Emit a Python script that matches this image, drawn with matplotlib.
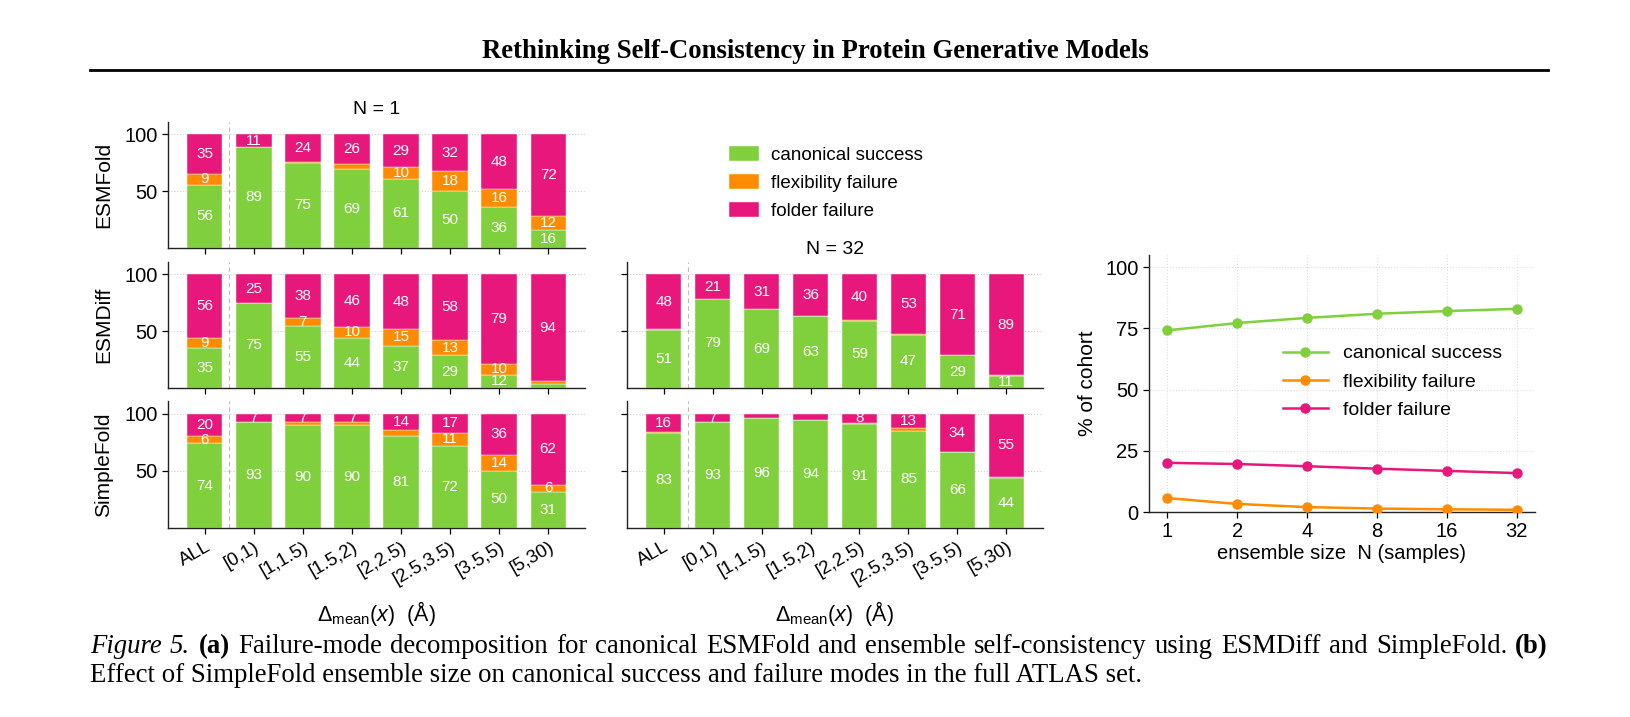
import matplotlib
matplotlib.use("Agg")
import matplotlib.pyplot as plt
from matplotlib.patches import Patch
from matplotlib.lines import Line2D
import numpy as np

# ---------------- data ----------------
categories = ["ALL", "[0,1)", "[1,1.5)", "[1.5,2)", "[2,2.5)", "[2.5,3.5)", "[3.5,5)", "[5,30)"]

esmfold_n1_success = [55.8, 89.2, 75.2, 69.4, 61.0, 50.0, 36.0, 16.0]
esmfold_n1_flex    = [9.2, 0.0, 0.6, 4.4, 10.0, 18.0, 16.0, 12.0]
esmfold_n1_folder  = [35.0, 10.8, 24.2, 26.2, 29.0, 32.0, 48.0, 72.0]

esmdiff_n1_success = [35.0, 75.0, 55.0, 44.0, 37.0, 29.0, 11.6, 3.5]
esmdiff_n1_flex    = [9.0, 0.0, 7.0, 10.0, 15.0, 13.0, 9.8, 2.5]
esmdiff_n1_folder  = [56.0, 25.0, 38.0, 46.0, 48.0, 58.0, 78.6, 94.0]

simplefold_n1_success = [74.0, 92.6, 89.8, 89.8, 80.8, 72.0, 50.0, 31.4]
simplefold_n1_flex    = [6.0, 0.4, 3.0, 2.6, 4.8, 11.0, 14.0, 6.4]
simplefold_n1_folder  = [20.0, 7.0, 7.2, 7.4, 14.4, 17.0, 36.0, 62.2]

esmdiff_n32_success = [51.2, 78.8, 69.2, 63.4, 59.2, 47.0, 29.0, 11.0]
esmdiff_n32_flex    = [0.6, 0.0, 0.2, 0.4, 0.8, 0.2, 0.2, 0.2]
esmdiff_n32_folder  = [48.2, 21.2, 30.6, 36.2, 40.0, 52.8, 70.8, 88.8]

simplefold_n32_success = [83.2, 92.6, 96.0, 94.2, 91.0, 84.8, 66.0, 44.0]
simplefold_n32_flex    = [0.8, 0.2, 0.5, 0.6, 1.0, 2.4, 0.2, 0.8]
simplefold_n32_folder  = [16.0, 7.2, 3.5, 5.2, 8.0, 12.8, 33.8, 55.2]

ensemble_sizes = [1, 2, 4, 8, 16, 32]
line_success = [74.2, 77.2, 79.3, 81.0, 82.1, 83.0]
line_flex    = [5.7, 3.3, 2.0, 1.4, 1.1, 0.9]
line_folder  = [20.1, 19.6, 18.7, 17.7, 16.8, 15.9]

series_labels = ["canonical success", "flexibility failure", "folder failure"]

# ---------------- style ----------------
C_GREEN = "#7fd03c"
C_ORANGE = "#ff8c00"
C_MAGENTA = "#e8177c"
colors = [C_GREEN, C_ORANGE, C_MAGENTA]

plt.rcParams["font.family"] = ["Liberation Sans", "DejaVu Sans"]
plt.rcParams["mathtext.fontset"] = "custom"
plt.rcParams["mathtext.rm"] = "Liberation Sans"
plt.rcParams["mathtext.it"] = "Liberation Sans:italic"
plt.rcParams["axes.linewidth"] = 1.0
plt.rcParams["axes.edgecolor"] = "#222222"

W, H = 1631, 717
fig = plt.figure(figsize=(W / 100, H / 100), dpi=100)


def rect(x0, y0, x1, y1):
    return [x0 / W, 1 - y1 / H, (x1 - x0) / W, (y1 - y0) / H]


LX0, LX1 = 168, 585
RX0, RX1 = 627, 1043
ROWS = [(122, 248), (262, 388), (401, 528)]

TICK_FS = 14.5
BAR_FS = 11


def stacked(ax, succ, flex, fold, show_xlabels, show_ylabels):
    x = np.arange(len(categories))
    bottoms = np.zeros(len(categories))
    for vals, col in zip([succ, flex, fold], colors):
        vals = np.asarray(vals, dtype=float)
        ax.bar(x, vals, width=0.72, bottom=bottoms, color=col,
               edgecolor="white", linewidth=0.3, zorder=2)
        for xi, b, v in zip(x, bottoms, vals):
            if v >= 5.5:
                ax.text(xi, b + v / 2, f"{int(round(v))}", ha="center", va="center",
                        color="white", fontsize=BAR_FS, zorder=3)
        bottoms = bottoms + vals
    ax.set_xlim(-0.75, 7.75)
    ax.set_ylim(0, 111)
    ax.set_yticks([50, 100])
    ax.yaxis.grid(True, linestyle=":", color="#cccccc", linewidth=0.8, zorder=0)
    ax.set_axisbelow(True)
    ax.axvline(0.5, color="#bbbbbb", linestyle=(0, (4, 3)), linewidth=0.8, zorder=1)
    for s in ["top", "right"]:
        ax.spines[s].set_visible(False)
    ax.set_xticks(x)
    ax.tick_params(axis="both", labelsize=TICK_FS, length=4, width=0.9)
    if show_xlabels:
        ax.set_xticklabels(categories, rotation=30, ha="right", rotation_mode="anchor",
                           fontsize=13.5)
        ax.set_xlabel(r"$\Delta_{\mathrm{mean}}(x)$  (Å)", fontsize=15.5, labelpad=8)
    else:
        ax.set_xticklabels([])
    if not show_ylabels:
        ax.set_yticklabels([])


model_names = ["ESMFold", "ESMDiff", "SimpleFold"]
left_data = [
    (esmfold_n1_success, esmfold_n1_flex, esmfold_n1_folder),
    (esmdiff_n1_success, esmdiff_n1_flex, esmdiff_n1_folder),
    (simplefold_n1_success, simplefold_n1_flex, simplefold_n1_folder),
]
for i, ((y0, y1), name, d) in enumerate(zip(ROWS, model_names, left_data)):
    ax = fig.add_axes(rect(LX0, y0, LX1, y1))
    stacked(ax, *d, show_xlabels=(i == 2), show_ylabels=True)
    ax.set_ylabel(name, fontsize=15, labelpad=8)
    if i == 0:
        ax.set_title("N = 1", fontsize=14, pad=6)

right_data = [
    (esmdiff_n32_success, esmdiff_n32_flex, esmdiff_n32_folder),
    (simplefold_n32_success, simplefold_n32_flex, simplefold_n32_folder),
]
for i, ((y0, y1), d) in enumerate(zip(ROWS[1:], right_data)):
    ax = fig.add_axes(rect(RX0, y0, RX1, y1))
    stacked(ax, *d, show_xlabels=(i == 1), show_ylabels=False)
    if i == 0:
        ax.set_title("N = 32", fontsize=14, pad=6)

# bar legend
handles = [Patch(facecolor=c, edgecolor="white", linewidth=0.3) for c in colors]
fig.legend(handles, series_labels, loc="center left",
           bbox_to_anchor=(729 / W, 1 - 183 / H), frameon=False, fontsize=13.5,
           handlelength=1.6, handleheight=0.8, handletextpad=0.65,
           labelspacing=0.55, borderpad=0, borderaxespad=0)

# line chart
axl = fig.add_axes(rect(1149, 255, 1535, 512))
for vals, col, lab in zip([line_success, line_flex, line_folder], colors, series_labels):
    axl.plot(ensemble_sizes, vals, color=col, marker="o", markersize=6.5,
             linewidth=1.8, label=lab, zorder=3)
axl.set_xscale("log", base=2)
axl.set_xlim(2 ** -0.26, 32 * 2 ** 0.26)
axl.set_ylim(0, 105)
axl.set_xticks(ensemble_sizes)
axl.set_xticklabels([str(v) for v in ensemble_sizes])
axl.xaxis.set_minor_locator(matplotlib.ticker.NullLocator())
axl.set_yticks([0, 25, 50, 75, 100])
axl.grid(True, linestyle=":", color="#dddddd", linewidth=0.8, zorder=0)
for s in ["top", "right"]:
    axl.spines[s].set_visible(False)
axl.tick_params(axis="both", labelsize=TICK_FS, length=4, width=0.9)
axl.set_ylabel("% of cohort", fontsize=15, labelpad=6)
axl.set_xlabel("ensemble size  N (samples)", fontsize=14.5, labelpad=2)
fig.legend(*axl.get_legend_handles_labels(), loc="center left",
           bbox_to_anchor=(1283 / W, 1 - 382 / H), frameon=False, fontsize=14,
           handlelength=2.3, handletextpad=0.8, labelspacing=0.55,
           borderpad=0, borderaxespad=0)

# header
fig.text(0.5, 1 - 52 / H, "Rethinking Self-Consistency in Protein Generative Models",
         ha="center", va="center", fontsize=19.3, fontweight="bold",
         family="Liberation Serif")
fig.add_artist(Line2D([90 / W, 1548 / W], [1 - 70 / H, 1 - 70 / H],
                      color="black", linewidth=2.0))

# caption (line 1 justified)
renderer = fig.canvas.get_renderer()
line1_words = [("Figure", {"style": "italic"}), ("5.", {"style": "italic"}),
               ("(a)", {"weight": "bold"})]
line1_words += [(w, {}) for w in ("Failure-mode decomposition for canonical ESMFold and ensemble "
                                 "self-consistency using ESMDiff and SimpleFold.").split()]
line1_words += [("(b)", {"weight": "bold"})]

# choose font size so the natural width of line 1 nearly fills the column
probe = fig.text(0, 0, " ".join(w for w, _ in line1_words), fontsize=20,
                 family="Liberation Serif")
natural = probe.get_window_extent(renderer).width
probe.remove()
CAP_FS = min(20.0, 20.0 * 1430 / natural)

texts, widths = [], []
y1 = 1 - 653 / H
for w, st in line1_words:
    t = fig.text(0, y1, w, fontsize=CAP_FS, family="Liberation Serif", va="baseline", **st)
    texts.append(t)
    widths.append(t.get_window_extent(renderer).width)
gap = (1548 - 90 - sum(widths)) / (len(texts) - 1)
xp = 90
for t, wd in zip(texts, widths):
    t.set_x(xp / W)
    xp += wd + gap
fig.text(90 / W, 1 - 682 / H,
         "Effect of SimpleFold ensemble size on canonical success and failure modes in the full ATLAS set.",
         fontsize=CAP_FS, family="Liberation Serif", va="baseline")

fig.savefig("out.png", dpi=100)
